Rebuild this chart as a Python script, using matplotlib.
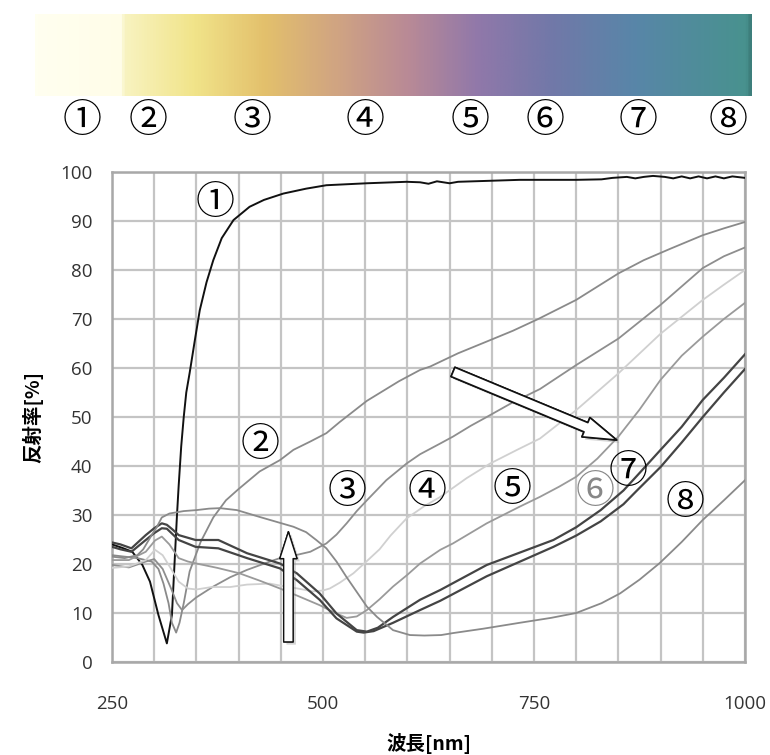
import numpy as np
import matplotlib
matplotlib.use('Agg')
import matplotlib.pyplot as plt
from matplotlib.colors import LinearSegmentedColormap
from matplotlib.patches import FancyArrowPatch
import matplotlib.patheffects as pe

# ---- datos ----
wl_1 = [250, 262, 274, 286, 295, 305, 315, 321, 325, 327, 329, 332, 335, 338, 342, 348, 354, 362, 370, 380,
        394, 413, 430, 453, 480, 504, 552, 599, 615, 625, 635, 650, 660, 733, 800, 830, 843, 860, 870, 880,
        891, 905, 915, 925, 935, 945, 955, 965, 975, 985, 1000]
r_1 = [24.0, 23.3, 22.5, 19.8, 16.4, 9.6, 3.8, 9.6, 23.2, 30, 36, 44, 50, 55, 59, 65.5, 71.8, 77.5, 82, 86.5,
       90.2, 92.9, 94.3, 95.6, 96.6, 97.3, 97.7, 98.0, 97.9, 97.6, 98.1, 97.7, 98.0, 98.4, 98.4, 98.5, 98.8, 99.0, 98.7, 99.0,
       99.2, 99.0, 98.7, 99.1, 98.7, 99.1, 98.7, 99.1, 98.7, 99.1, 98.8]

wl_2 = [250, 265, 280, 297, 305, 311, 317, 321, 326, 330, 335, 342, 355, 370, 385, 400, 425, 449, 465, 485,
        504, 520, 552, 590, 615, 627, 660, 694, 725, 755, 800, 850, 880, 911, 950, 975, 1000]
r_2 = [21.8, 21.5, 21.2, 20.5, 19, 16, 12, 8, 6.0, 8, 12, 18.5, 24.5, 29.5, 33, 35.3, 38.9, 41.2, 43.3, 45,
       46.7, 49.0, 53.3, 57.3, 59.6, 60.3, 63, 65.4, 67.6, 70.0, 73.9, 79.3, 82, 84.3, 87.1, 88.5, 89.8]

wl_3 = [250, 270, 290, 300, 310, 320, 327, 333, 340, 350, 370, 390, 410, 437, 449, 465, 485, 504, 516, 528,
        540, 552, 575, 599, 615, 639, 654, 675, 694, 725, 757, 800, 850, 900, 950, 975, 1000]
r_3 = [19.8, 19.3, 20.5, 21, 19, 15, 12, 10.6, 11.8, 13.2, 15.4, 17.3, 18.8, 20.5, 21.2, 21.7, 22.5, 24.2, 26, 28.3,
       30.8, 33, 37.1, 40.5, 42.4, 44.6, 46, 48.2, 50, 53, 55.7, 60.6, 66, 72.9, 80.4, 82.8, 84.6]

wl_4 = [250, 270, 290, 301, 310, 320, 329, 340, 350, 368, 390, 410, 437, 449, 470, 488, 500, 508, 520, 536,
        552, 567, 580, 599, 620, 639, 670, 698, 730, 757, 800, 850, 900, 950, 975, 1000]
r_4 = [19.2, 19.5, 20.8, 22.9, 21.8, 19, 16.4, 15, 14.8, 15.3, 15.3, 15.8, 16, 15.6, 15, 14.4, 14.6, 15, 16.2, 18.1,
       20.6, 23, 25.8, 29.3, 31.8, 33.7, 37.5, 40.5, 43.3, 45.6, 51.4, 58.9, 67, 73.9, 77, 80]

wl_5 = [250, 270, 290, 301, 309, 318, 329, 340, 350, 375, 401, 425, 449, 470, 496, 512, 528, 540, 552, 567,
        583, 600, 615, 639, 654, 694, 733, 757, 780, 800, 825, 850, 875, 900, 925, 950, 975, 1000]
r_5 = [20.8, 20.8, 22.5, 24.8, 25.6, 24, 21.2, 20.5, 20.1, 19.2, 18.1, 16.6, 15, 13.5, 11.6, 10.2, 9.0, 9.3, 10.6, 12.8,
       15.4, 17.8, 20.1, 22.9, 24.2, 28.3, 31.7, 33.7, 35.8, 37.8, 41.5, 46, 51.5, 57.6, 62.5, 66.4, 70, 73.3]

wl_6 = [250, 260, 273, 290, 300, 309, 315, 322, 329, 349, 376, 410, 449, 469, 496, 516, 540, 552, 565, 583,
        615, 639, 694, 773, 800, 829, 856, 872, 900, 925, 950, 975, 1000]
r_6 = [24.4, 24.0, 23.2, 25.9, 27.3, 28.3, 28.0, 27.0, 25.9, 24.9, 24.9, 22.2, 20.1, 18.1, 14.0, 9.9, 6.5, 6.2, 7.0, 9.2,
       12.7, 14.7, 19.8, 24.9, 27.5, 31, 35, 38, 43.3, 48, 53.5, 58, 62.8]

wl_7 = [250, 260, 273, 290, 300, 309, 315, 329, 349, 376, 410, 449, 469, 496, 516, 540, 548, 560, 583, 615,
        639, 694, 773, 800, 829, 856, 872, 900, 925, 950, 975, 1000]
r_7 = [23.5, 23.0, 22.5, 24.9, 26.3, 27.3, 27.2, 24.9, 23.5, 23.2, 21.2, 19.1, 16.7, 12.7, 8.9, 6.2, 6.0, 6.3, 8.0, 10.6,
       12.5, 17.5, 23.5, 25.8, 28.7, 32.2, 35.0, 39.8, 44.8, 50, 55, 59.8]

wl_8 = [250, 265, 280, 287, 297, 303, 309, 318, 335, 350, 365, 378, 398, 425, 437, 465, 480, 492, 504, 516,
        528, 544, 552, 564, 583, 603, 620, 640, 654, 690, 733, 770, 800, 830, 852, 875, 899, 925, 950, 975, 1000]
r_8 = [21.5, 21.2, 21.8, 23, 25.9, 27.5, 29.5, 30.3, 30.8, 31.0, 31.3, 31.4, 31.0, 29.6, 29.0, 27.6, 26.5, 24.9, 23.2, 20.5,
       17.3, 13.3, 11.3, 9.2, 6.5, 5.5, 5.4, 5.5, 5.9, 6.8, 8.0, 9.0, 10.0, 12, 14, 16.8, 20.2, 24.5, 29, 33, 37.1]

series = [(wl_1, r_1), (wl_2, r_2), (wl_3, r_3), (wl_4, r_4),
          (wl_5, r_5), (wl_6, r_6), (wl_7, r_7), (wl_8, r_8)]
marcas = ['①', '②', '③', '④', '⑤', '⑥', '⑦', '⑧']

# estilo de cada curva
cores = ['#111111', '#8a8a8a', '#8e8e8e', '#d0d0d0', '#9a9a9a', '#444444', '#444444', '#8a8a8a']
larguras = [1.4, 1.3, 1.3, 1.3, 1.3, 1.6, 1.6, 1.3]

# posição dos rótulos dentro do gráfico
pos_rotulos = [(372, 93.7), (425, 44.3), (528, 34.7), (623, 34.7),
               (724, 35.1), (822, 34.7), (861, 38.8), (929, 32.4)]
cor_rotulos = ['black', 'black', 'black', 'black', 'black', '#888888', 'black', 'black']

# faixa de cores (amostras) no topo
faixa_pos = [0.0, 0.118, 0.124, 0.22, 0.32, 0.42, 0.52, 0.62, 0.72, 0.84, 0.995, 1.0]
faixa_cor = ['#fffff0', '#fffde8', '#f8f3c0', '#f1e48a', '#e3c06c', '#d0a482', '#b98a96', '#9078aa',
             '#7278a8', '#5886a8', '#48928e', '#3e7f7c']
topo_x_px = [82, 148, 252, 365, 470, 545, 638, 728]

W, H = 770, 755
fig = plt.figure(figsize=(W / 100, H / 100), dpi=100)

cjk = ['Noto Sans CJK JP', 'DejaVu Sans']

# faixa
ax_f = fig.add_axes([35 / W, 1 - 96 / H, 717 / W, 82 / H])
cmap = LinearSegmentedColormap.from_list('faixa', list(zip(faixa_pos, faixa_cor)))
ax_f.imshow(np.linspace(0, 1, 800)[None, :], aspect='auto', cmap=cmap, extent=[0, 1, 0, 1])
ax_f.axis('off')

for px, m in zip(topo_x_px, marcas):
    fig.text(px / W, 1 - 121 / H, m, family=cjk, fontsize=28, ha='center', va='center')

# gráfico principal
ax = fig.add_axes([112 / W, 1 - 662 / H, 633 / W, 490 / H])
for (x, y), c, lw in zip(series, cores, larguras):
    ax.plot(x, y, color=c, lw=lw, zorder=3)

ax.set_xlim(250, 1000)
ax.set_ylim(0, 100)
ax.set_xticks([250, 500, 750, 1000])
ax.set_xticks(np.arange(250, 1001, 50), minor=True)
ax.set_yticks(np.arange(0, 101, 10))
ax.grid(True, which='both', color='#c4c4c4', lw=1.6, zorder=0)
ax.set_axisbelow(True)
ax.tick_params(which='both', length=0)
ax.tick_params(axis='x', pad=24)
ax.tick_params(axis='y', pad=14)
for lab in ax.get_xticklabels() + ax.get_yticklabels():
    lab.set_family('Open Sans')
    lab.set_fontsize(13.5)
    lab.set_color('#333333')
for s in ax.spines.values():
    s.set_color('#a8a8a8')
    s.set_linewidth(1.8)

ax.set_xlabel('波長[nm]', family=cjk, fontsize=14, fontweight='bold', labelpad=14)
ax.set_ylabel('反射率[%]', family=cjk, fontsize=14, fontweight='bold', labelpad=12)

for (x, y), m, c in zip(pos_rotulos, marcas, cor_rotulos):
    ax.text(x, y, m, family=cjk, fontsize=28, color=c, ha='center', va='center', zorder=5)

# setas
sombra = [pe.withSimplePatchShadow(offset=(2, -2), shadow_rgbFace='#888888', alpha=0.35), pe.Normal()]
seta1 = FancyArrowPatch((654, 59.2), (848, 45.3),
                        arrowstyle='simple,head_length=1.2,head_width=0.75,tail_width=0.36',
                        mutation_scale=20, fc='white', ec='#111111', lw=1.2, zorder=6,
                        shrinkA=0, shrinkB=0, path_effects=sombra)
ax.add_patch(seta1)
seta2 = FancyArrowPatch((459, 4.1), (459, 26.6),
                        arrowstyle='simple,head_length=0.97,head_width=0.62,tail_width=0.34',
                        mutation_scale=20, fc='white', ec='#111111', lw=1.0, zorder=6,
                        shrinkA=0, shrinkB=0, path_effects=sombra)
ax.add_patch(seta2)

fig.savefig('out.png', dpi=100)
